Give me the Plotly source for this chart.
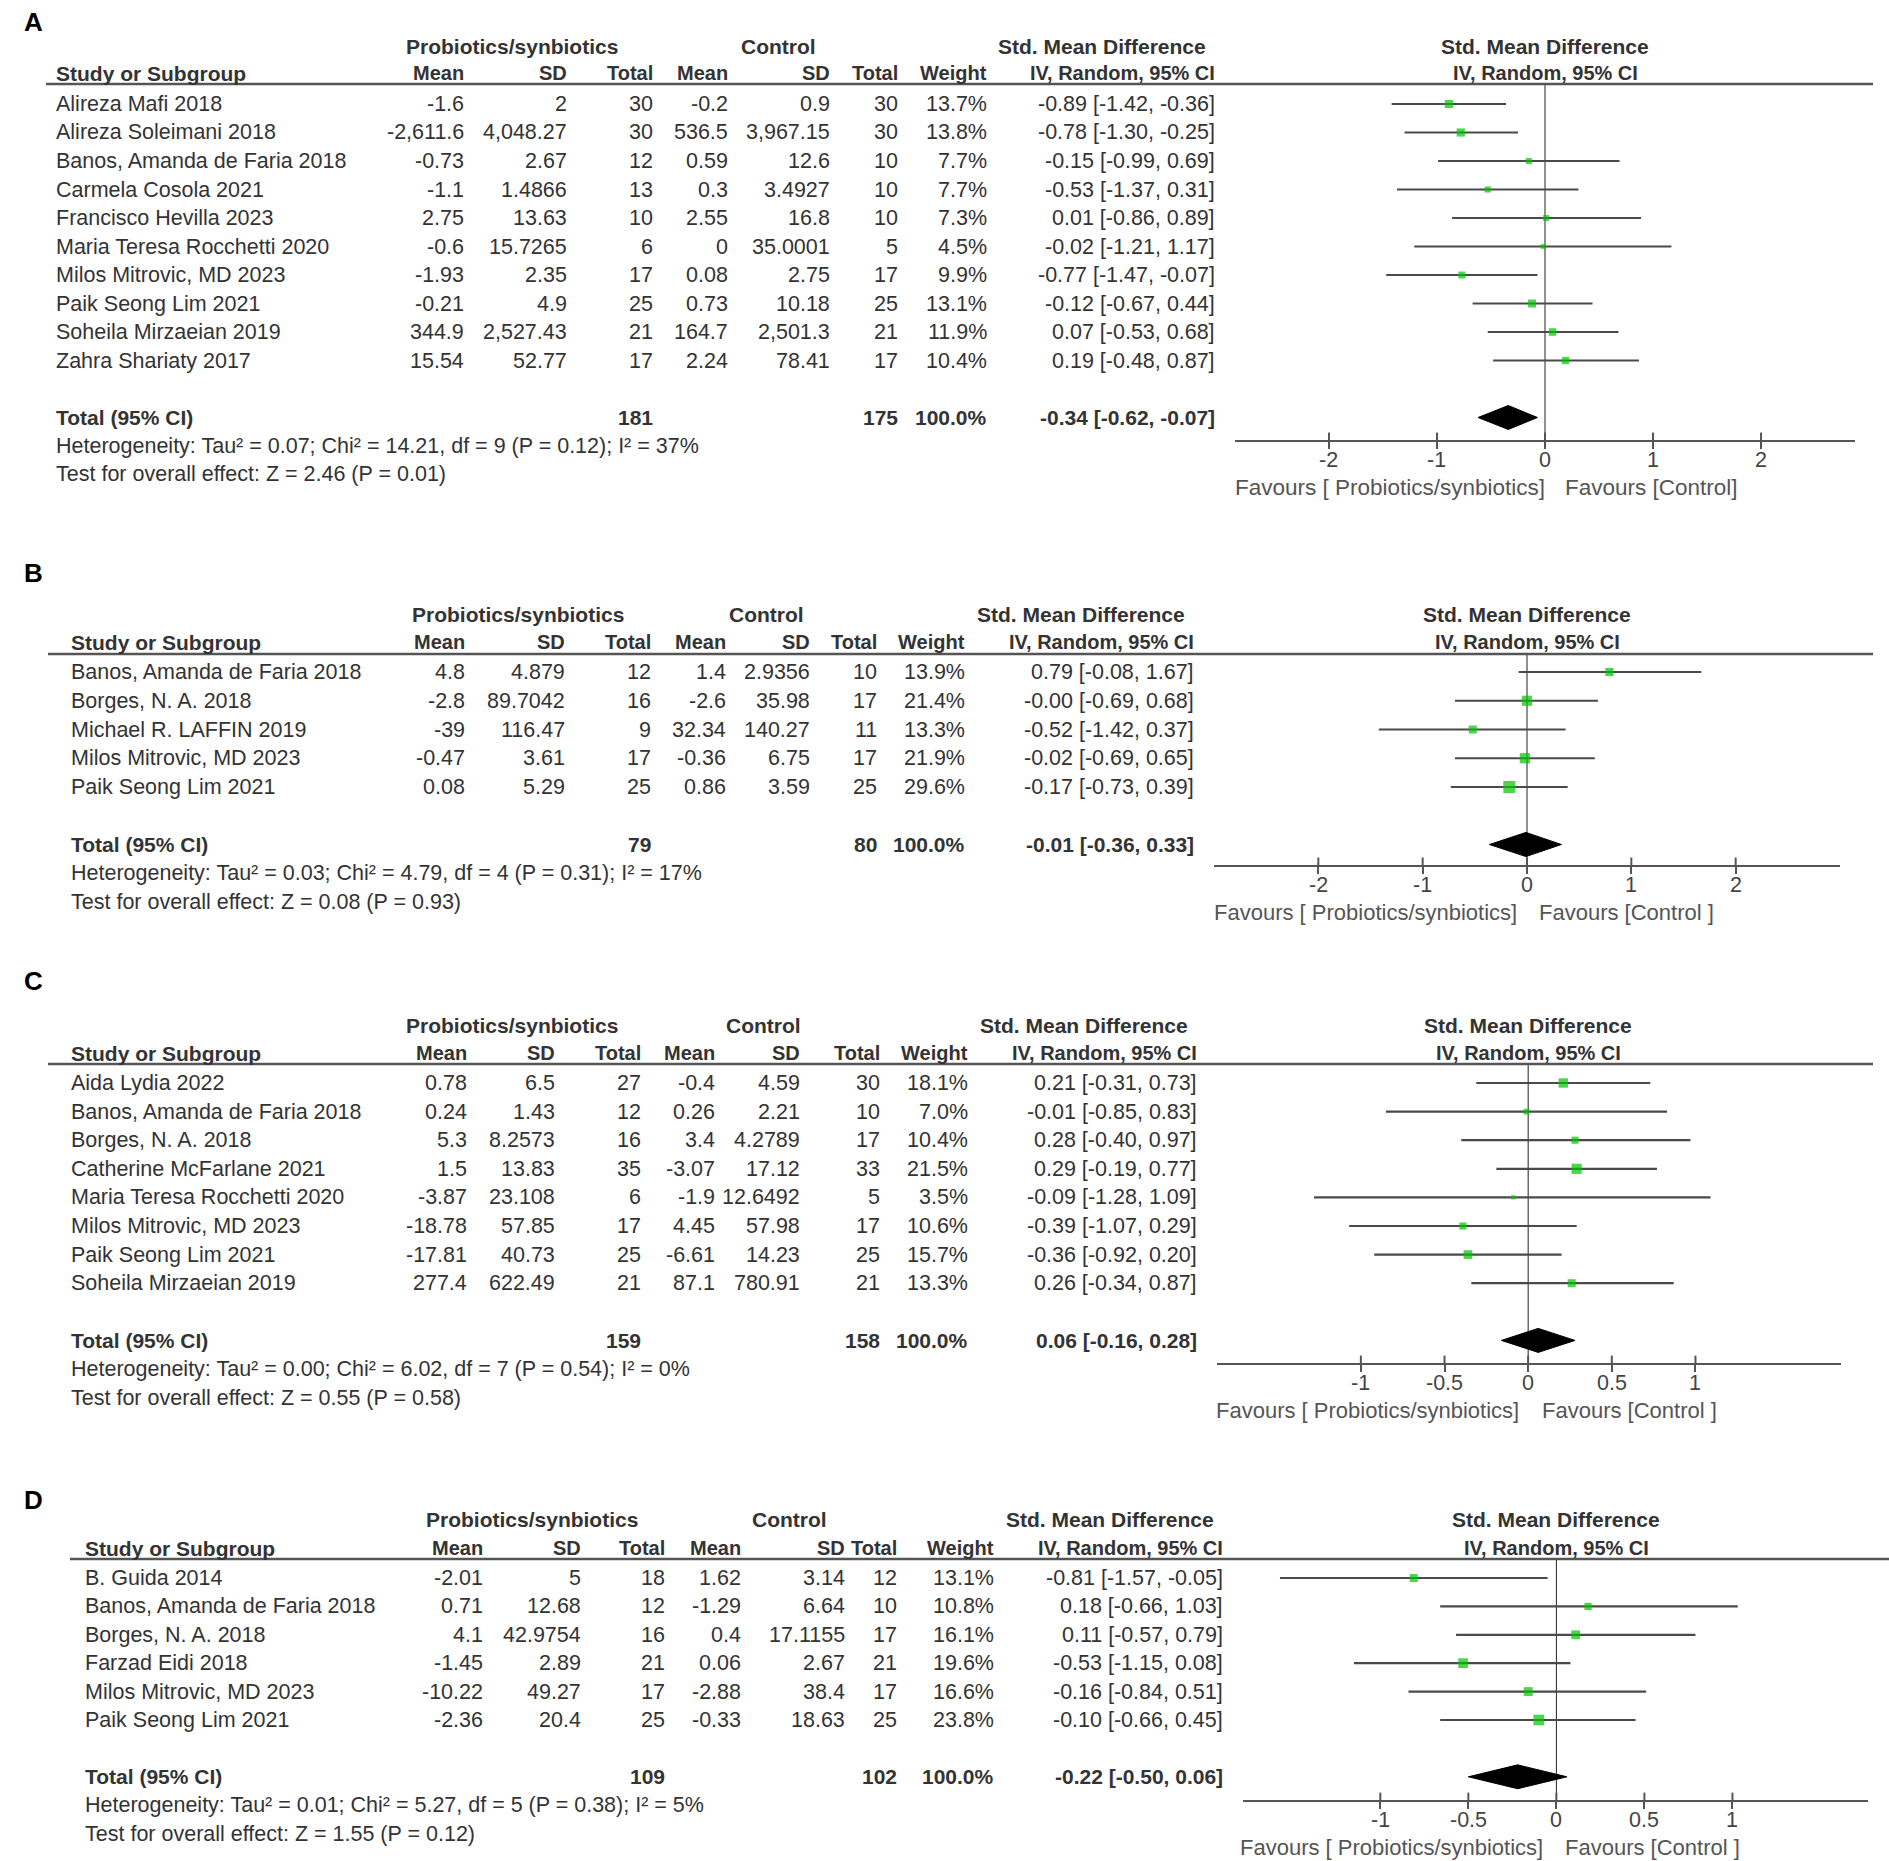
import math
import plotly.graph_objects as go

W, H = 1889, 1861
FONT = "Liberation Sans, Arial, sans-serif"
FS = 21.5
TXT = "#333333"

# ---------------- Panel A ----------------
A_study = ["Alireza Mafi 2018", "Alireza Soleimani 2018", "Banos, Amanda de Faria 2018",
           "Carmela Cosola 2021", "Francisco Hevilla 2023", "Maria Teresa Rocchetti 2020",
           "Milos Mitrovic, MD 2023", "Paik Seong Lim 2021", "Soheila Mirzaeian 2019",
           "Zahra Shariaty 2017"]
A_m1 = [-1.6, -2611.6, -0.73, -1.1, 2.75, -0.6, -1.93, -0.21, 344.9, 15.54]
A_sd1 = [2, 4048.27, 2.67, 1.4866, 13.63, 15.7265, 2.35, 4.9, 2527.43, 52.77]
A_n1 = [30, 30, 12, 13, 10, 6, 17, 25, 21, 17]
A_m2 = [-0.2, 536.5, 0.59, 0.3, 2.55, 0, 0.08, 0.73, 164.7, 2.24]
A_sd2 = [0.9, 3967.15, 12.6, 3.4927, 16.8, 35.0001, 2.75, 10.18, 2501.3, 78.41]
A_n2 = [30, 30, 10, 10, 10, 5, 17, 25, 21, 17]
A_w = [13.7, 13.8, 7.7, 7.7, 7.3, 4.5, 9.9, 13.1, 11.9, 10.4]
A_est = [-0.89, -0.78, -0.15, -0.53, 0.01, -0.02, -0.77, -0.12, 0.07, 0.19]
A_lo = [-1.42, -1.30, -0.99, -1.37, -0.86, -1.21, -1.47, -0.67, -0.53, -0.48]
A_hi = [-0.36, -0.25, 0.69, 0.31, 0.89, 1.17, -0.07, 0.44, 0.68, 0.87]
A_tot = [181, 175]
A_pool = [-0.34, -0.62, -0.07]
A_het = "Heterogeneity: Tau² = 0.07; Chi² = 14.21, df = 9 (P = 0.12); I² = 37%"
A_test = "Test for overall effect: Z = 2.46 (P = 0.01)"
A_ticks = [-2, -1, 0, 1, 2]

# ---------------- Panel B ----------------
B_study = ["Banos, Amanda de Faria 2018", "Borges, N. A. 2018", "Michael R. LAFFIN 2019",
           "Milos Mitrovic, MD 2023", "Paik Seong Lim 2021"]
B_m1 = [4.8, -2.8, -39, -0.47, 0.08]
B_sd1 = [4.879, 89.7042, 116.47, 3.61, 5.29]
B_n1 = [12, 16, 9, 17, 25]
B_m2 = [1.4, -2.6, 32.34, -0.36, 0.86]
B_sd2 = [2.9356, 35.98, 140.27, 6.75, 3.59]
B_n2 = [10, 17, 11, 17, 25]
B_w = [13.9, 21.4, 13.3, 21.9, 29.6]
B_est = [0.79, -0.0, -0.52, -0.02, -0.17]
B_lo = [-0.08, -0.69, -1.42, -0.69, -0.73]
B_hi = [1.67, 0.68, 0.37, 0.65, 0.39]
B_tot = [79, 80]
B_pool = [-0.01, -0.36, 0.33]
B_het = "Heterogeneity: Tau² = 0.03; Chi² = 4.79, df = 4 (P = 0.31); I² = 17%"
B_test = "Test for overall effect: Z = 0.08 (P = 0.93)"
B_ticks = [-2, -1, 0, 1, 2]

# ---------------- Panel C ----------------
C_study = ["Aida Lydia 2022", "Banos, Amanda de Faria 2018", "Borges, N. A. 2018",
           "Catherine McFarlane 2021", "Maria Teresa Rocchetti 2020", "Milos Mitrovic, MD 2023",
           "Paik Seong Lim 2021", "Soheila Mirzaeian 2019"]
C_m1 = [0.78, 0.24, 5.3, 1.5, -3.87, -18.78, -17.81, 277.4]
C_sd1 = [6.5, 1.43, 8.2573, 13.83, 23.108, 57.85, 40.73, 622.49]
C_n1 = [27, 12, 16, 35, 6, 17, 25, 21]
C_m2 = [-0.4, 0.26, 3.4, -3.07, -1.9, 4.45, -6.61, 87.1]
C_sd2 = [4.59, 2.21, 4.2789, 17.12, 12.6492, 57.98, 14.23, 780.91]
C_n2 = [30, 10, 17, 33, 5, 17, 25, 21]
C_w = [18.1, 7.0, 10.4, 21.5, 3.5, 10.6, 15.7, 13.3]
C_est = [0.21, -0.01, 0.28, 0.29, -0.09, -0.39, -0.36, 0.26]
C_lo = [-0.31, -0.85, -0.40, -0.19, -1.28, -1.07, -0.92, -0.34]
C_hi = [0.73, 0.83, 0.97, 0.77, 1.09, 0.29, 0.20, 0.87]
C_tot = [159, 158]
C_pool = [0.06, -0.16, 0.28]
C_het = "Heterogeneity: Tau² = 0.00; Chi² = 6.02, df = 7 (P = 0.54); I² = 0%"
C_test = "Test for overall effect: Z = 0.55 (P = 0.58)"
C_ticks = [-1, -0.5, 0, 0.5, 1]

# ---------------- Panel D ----------------
D_study = ["B. Guida 2014", "Banos, Amanda de Faria 2018", "Borges, N. A. 2018",
           "Farzad Eidi 2018", "Milos Mitrovic, MD 2023", "Paik Seong Lim 2021"]
D_m1 = [-2.01, 0.71, 4.1, -1.45, -10.22, -2.36]
D_sd1 = [5, 12.68, 42.9754, 2.89, 49.27, 20.4]
D_n1 = [18, 12, 16, 21, 17, 25]
D_m2 = [1.62, -1.29, 0.4, 0.06, -2.88, -0.33]
D_sd2 = [3.14, 6.64, 17.1155, 2.67, 38.4, 18.63]
D_n2 = [12, 10, 17, 21, 17, 25]
D_w = [13.1, 10.8, 16.1, 19.6, 16.6, 23.8]
D_est = [-0.81, 0.18, 0.11, -0.53, -0.16, -0.10]
D_lo = [-1.57, -0.66, -0.57, -1.15, -0.84, -0.66]
D_hi = [-0.05, 1.03, 0.79, 0.08, 0.51, 0.45]
D_tot = [109, 102]
D_pool = [-0.22, -0.50, 0.06]
D_het = "Heterogeneity: Tau² = 0.01; Chi² = 5.27, df = 5 (P = 0.38); I² = 5%"
D_test = "Test for overall effect: Z = 1.55 (P = 0.12)"
D_ticks = [-1, -0.5, 0, 0.5, 1]

HDR_COLS = ["Mean", "SD", "Total", "Mean", "SD", "Total", "Weight", "IV, Random, 95% CI"]
FAV_L = "Favours [ Probiotics/synbiotics]"
FAV_R = ["Favours [Control]", "Favours [Control ]", "Favours [Control ]", "Favours [Control ]"]

data = [
    dict(label="A", study=A_study, m1=A_m1, sd1=A_sd1, n1=A_n1, m2=A_m2, sd2=A_sd2, n2=A_n2,
         w=A_w, est=A_est, lo=A_lo, hi=A_hi, tot=A_tot, pool=A_pool, het=A_het, test=A_test, ticks=A_ticks),
    dict(label="B", study=B_study, m1=B_m1, sd1=B_sd1, n1=B_n1, m2=B_m2, sd2=B_sd2, n2=B_n2,
         w=B_w, est=B_est, lo=B_lo, hi=B_hi, tot=B_tot, pool=B_pool, het=B_het, test=B_test, ticks=B_ticks),
    dict(label="C", study=C_study, m1=C_m1, sd1=C_sd1, n1=C_n1, m2=C_m2, sd2=C_sd2, n2=C_n2,
         w=C_w, est=C_est, lo=C_lo, hi=C_hi, tot=C_tot, pool=C_pool, het=C_het, test=C_test, ticks=C_ticks),
    dict(label="D", study=D_study, m1=D_m1, sd1=D_sd1, n1=D_n1, m2=D_m2, sd2=D_sd2, n2=D_n2,
         w=D_w, est=D_est, lo=D_lo, hi=D_hi, tot=D_tot, pool=D_pool, het=D_het, test=D_test, ticks=D_ticks),
]

# layout geometry (pixels)
geo = [
    dict(label_y=22, hdr1_y=46, hdr2_y=73, line_y=84, line_x0=46, line_x1=1873, row0=104, step=28.5,
         study_x=54, cols=[466, 569, 655, 730, 832, 900, 989, 1217], prob_c=512, ctrl_c=778,
         ax_x0=1235, ax_x1=1855, ax_y=440, xr=(-2.87, 2.87), fav_l=2, fav_r=18, fav_fs=22.5),
    dict(label_y=573, hdr1_y=614, hdr2_y=642, line_y=654, line_x0=48, line_x1=1873, row0=672, step=28.75,
         study_x=69, cols=[467, 567, 653, 728, 812, 879, 967, 1196], prob_c=518, ctrl_c=766,
         ax_x0=1214, ax_x1=1840, ax_y=865, xr=(-3.0, 3.0), fav_l=-8, fav_r=10, fav_fs=22),
    dict(label_y=981, hdr1_y=1025, hdr2_y=1053, line_y=1064, line_x0=48, line_x1=1873, row0=1083, step=28.6,
         study_x=69, cols=[469, 557, 643, 717, 802, 882, 970, 1199], prob_c=512, ctrl_c=763,
         ax_x0=1217, ax_x1=1841, ax_y=1363, xr=(-1.86, 1.87), fav_l=-7, fav_r=12, fav_fs=22),
    dict(label_y=1500, hdr1_y=1519, hdr2_y=1548, line_y=1559, line_x0=70, line_x1=1889, row0=1578, step=28.4,
         study_x=83, cols=[485, 583, 667, 743, 847, 899, 996, 1225], prob_c=532, ctrl_c=789,
         ax_x0=1243, ax_x1=1868, ax_y=1800, xr=(-1.78, 1.77), fav_l=-11, fav_r=7, fav_fs=22),
]


def fmt(v):
    return f"{v:,}"


def fmt_tick(t):
    return f"{t:g}"


annotations = []
shapes = []


def txt(x, y, s, anchor="left", bold=False, size=FS, color=TXT):
    annotations.append(dict(x=x / W, y=1 - y / H, xref="paper", yref="paper",
                            text=f"<b>{s}</b>" if bold else s, showarrow=False,
                            xanchor=anchor, yanchor="middle",
                            font=dict(size=size, color=color, family=FONT)))


fig = go.Figure()
layout_axes = {}

for i, (d, g) in enumerate(zip(data, geo), start=1):
    xa = "x" if i == 1 else f"x{i}"
    ya = "y" if i == 1 else f"y{i}"
    n = len(d["study"])
    row_px = lambda k: g["row0"] + k * g["step"]
    c = g["cols"]

    # panel label
    txt(22, g["label_y"], d["label"], bold=True, size=26, color="#000000")

    # headers
    txt(g["prob_c"], g["hdr1_y"], "Probiotics/synbiotics", anchor="center", bold=True, size=21)
    txt(g["ctrl_c"], g["hdr1_y"], "Control", anchor="center", bold=True, size=21)
    txt(c[7] - 115, g["hdr1_y"], "Std. Mean Difference", anchor="center", bold=True, size=21)
    zero_px = g["ax_x0"] + (0 - g["xr"][0]) / (g["xr"][1] - g["xr"][0]) * (g["ax_x1"] - g["ax_x0"])
    txt(zero_px, g["hdr1_y"], "Std. Mean Difference", anchor="center", bold=True, size=21)

    txt(g["study_x"], g["hdr2_y"], "Study or Subgroup", bold=True, size=21)
    for col_x, lab in zip(c, HDR_COLS):
        txt(col_x, g["hdr2_y"], lab, anchor="right", bold=True, size=20)
    txt(zero_px, g["hdr2_y"], "IV, Random, 95% CI", anchor="center", bold=True, size=20)

    shapes.append(dict(type="line", xref="paper", yref="paper",
                       x0=g["line_x0"] / W, x1=g["line_x1"] / W,
                       y0=1 - g["line_y"] / H, y1=1 - g["line_y"] / H,
                       line=dict(color="#555555", width=2.5)))

    # study rows
    for k in range(n):
        y = row_px(k)
        txt(g["study_x"], y, d["study"][k])
        vals = [fmt(d["m1"][k]), fmt(d["sd1"][k]), fmt(d["n1"][k]), fmt(d["m2"][k]),
                fmt(d["sd2"][k]), fmt(d["n2"][k]), f"{d['w'][k]:.1f}%",
                f"{d['est'][k]:.2f} [{d['lo'][k]:.2f}, {d['hi'][k]:.2f}]"]
        for col_x, v in zip(c, vals):
            txt(col_x, y, v, anchor="right")

    # total row
    yt = row_px(n + 1)
    txt(g["study_x"], yt, "Total (95% CI)", bold=True, size=21)
    txt(c[2], yt, str(d["tot"][0]), anchor="right", bold=True, size=21)
    txt(c[5], yt, str(d["tot"][1]), anchor="right", bold=True, size=21)
    txt(c[6], yt, "100.0%", anchor="right", bold=True, size=21)
    p = d["pool"]
    txt(c[7], yt, f"{p[0]:.2f} [{p[1]:.2f}, {p[2]:.2f}]", anchor="right", bold=True, size=21)
    txt(g["study_x"], row_px(n + 2), d["het"])
    txt(g["study_x"], row_px(n + 3), d["test"])

    # tick labels (as annotations on the axis' own scale)
    for t in d["ticks"]:
        annotations.append(dict(x=t, xref=xa, y=1 - (g["ax_y"] + 20) / H, yref="paper",
                                text=fmt_tick(t), showarrow=False, xanchor="center", yanchor="middle",
                                font=dict(size=FS, color="#444444", family=FONT)))

    # favours labels
    fav_y = g["ax_y"] + 47
    txt(zero_px + g["fav_l"], fav_y, FAV_L, anchor="right", color="#555555", size=g["fav_fs"])
    txt(zero_px + g["fav_r"], fav_y, FAV_R[i - 1], anchor="left", color="#555555", size=g["fav_fs"])

    # forest plot traces
    y_bottom = (g["ax_y"] - g["row0"]) / g["step"]
    y_top = (g["line_y"] - g["row0"]) / g["step"]
    rows = list(range(n))

    cx, cy = [], []
    for k in rows:
        cx += [d["lo"][k], d["hi"][k], None]
        cy += [k, k, None]
    fig.add_trace(go.Scatter(x=cx, y=cy, mode="lines", line=dict(color="#4a4a4a", width=2.2),
                             xaxis=xa, yaxis=ya, hoverinfo="skip"))
    fig.add_trace(go.Scatter(x=d["est"], y=rows, mode="markers",
                             marker=dict(symbol="square", color="#00c400",
                                         size=[2.2 * math.sqrt(w) for w in d["w"]], line=dict(width=0)),
                             xaxis=xa, yaxis=ya, hoverinfo="skip"))
    hh = 0.42
    fig.add_trace(go.Scatter(x=[p[1], p[0], p[2], p[0], p[1]],
                             y=[n + 1, n + 1 - hh, n + 1, n + 1 + hh, n + 1],
                             mode="lines", fill="toself", fillcolor="#000000",
                             line=dict(color="#000000", width=1), xaxis=xa, yaxis=ya, hoverinfo="skip"))
    tx, ty = [], []
    for t in d["ticks"]:
        tx += [t, t, None]
        ty += [y_bottom, y_bottom - 0.26, None]
    fig.add_trace(go.Scatter(x=tx, y=ty, mode="lines", line=dict(color="#555555", width=2),
                             xaxis=xa, yaxis=ya, hoverinfo="skip"))

    shapes.append(dict(type="line", xref=xa, yref=f"{ya} domain", x0=0, x1=0, y0=0, y1=1,
                       line=dict(color="#222222", width=1), layer="below"))

    xkey = "xaxis" if i == 1 else f"xaxis{i}"
    ykey = "yaxis" if i == 1 else f"yaxis{i}"
    layout_axes[xkey] = dict(domain=[g["ax_x0"] / W, g["ax_x1"] / W], range=list(g["xr"]),
                             anchor=ya, showgrid=False, zeroline=False, showline=True,
                             linecolor="#555555", linewidth=2, ticks="outside", ticklen=7,
                             tickwidth=2, tickcolor="#555555",
                             tickvals=d["ticks"], showticklabels=False, fixedrange=True)
    layout_axes[ykey] = dict(domain=[1 - g["ax_y"] / H, 1 - g["line_y"] / H],
                             range=[y_bottom, y_top], anchor=xa, visible=False,
                             showgrid=False, zeroline=False, fixedrange=True)

fig.update_layout(width=W, height=H, margin=dict(l=0, r=0, t=0, b=0),
                  paper_bgcolor="white", plot_bgcolor="white", showlegend=False,
                  annotations=annotations, shapes=shapes, font=dict(family=FONT, color=TXT),
                  **layout_axes)

fig.write_html("out.html", config={"displayModeBar": False},
               post_script="document.body.style.margin='0px';document.body.style.overflow='hidden';")
